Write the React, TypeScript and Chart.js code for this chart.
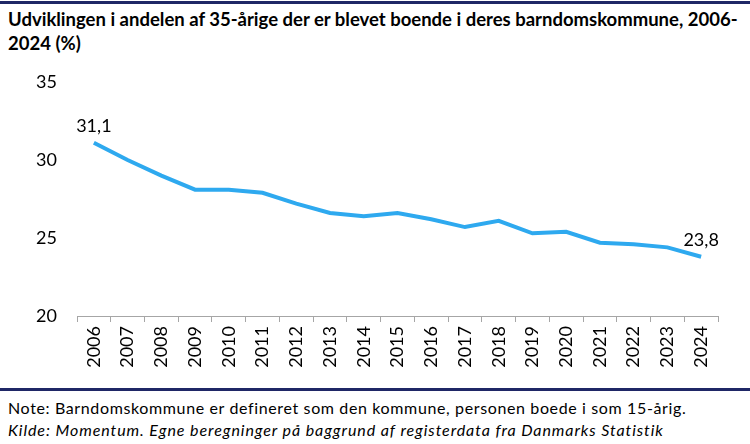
import React, { useEffect, useRef } from "react";
import { Chart, registerables } from "chart.js";

Chart.register(...registerables);

const years = ["2006","2007","2008","2009","2010","2011","2012","2013","2014","2015","2016","2017","2018","2019","2020","2021","2022","2023","2024"];
const shares = [31.1, 30.0, 29.0, 28.1, 28.1, 27.9, 27.2, 26.6, 26.4, 26.6, 26.2, 25.7, 26.1, 25.3, 25.4, 24.7, 24.6, 24.4, 23.8];
const labelledIndices = [0, 18];
const yMin = 20;
const yMax = 35;
const yStep = 5;

const titleLine1 = "Udviklingen i andelen af 35-årige der er blevet boende i deres barndomskommune, 2006-";
const titleLine2 = "2024 (%)";
const noteText = "Note: Barndomskommune er defineret som den kommune, personen boede i som 15-årig.";
const sourceText = "Kilde: Momentum. Egne beregninger på baggrund af registerdata fra Danmarks Statistik";

const FONT = "Lato, 'Open Sans', sans-serif";
const NAVY = "#1F2766";
const LINE = "#2EA9EF";

const endLabels = {
  id: "endLabels",
  afterDatasetsDraw(chart: any) {
    const ctx = chart.ctx;
    const meta = chart.getDatasetMeta(0);
    ctx.save();
    ctx.font = `18px ${FONT}`;
    ctx.fillStyle = "#000";
    ctx.textAlign = "center";
    ctx.textBaseline = "alphabetic";
    labelledIndices.forEach((i) => {
      const pt = meta.data[i];
      const v = chart.data.datasets[0].data[i] as number;
      ctx.fillText(v.toFixed(1).replace(".", ","), pt.x, pt.y - 11);
    });
    ctx.restore();
  },
};

export default function App() {
  const ref = useRef<HTMLCanvasElement>(null);
  useEffect(() => {
    const chart = new Chart(ref.current!, {
      type: "line",
      data: {
        labels: years,
        datasets: [
          {
            data: shares,
            borderColor: LINE,
            borderWidth: 4,
            pointRadius: 0,
            tension: 0,
            fill: false,
          },
        ],
      },
      options: {
        animation: false,
        responsive: true,
        maintainAspectRatio: false,
        layout: { padding: { top: 22, right: 32, left: 0, bottom: 0 } },
        plugins: { legend: { display: false }, tooltip: { enabled: false } },
        scales: {
          x: {
            offset: true,
            grid: {
              offset: true,
              drawOnChartArea: false,
              drawTicks: true,
              tickLength: 6,
              color: "#A6A6A6",
            },
            border: { display: true, color: "#A6A6A6", width: 1 },
            ticks: {
              autoSkip: false,
              minRotation: 90,
              maxRotation: 90,
              padding: 4,
              color: "#000",
              font: { family: FONT, size: 18 },
            },
            afterFit(scale: any) {
              scale.height = 72;
            },
          },
          y: {
            min: yMin,
            max: yMax,
            grid: { display: false, drawTicks: false },
            border: { display: false },
            ticks: {
              stepSize: yStep,
              padding: 20,
              color: "#000",
              font: { family: FONT, size: 18 },
            },
            afterFit(scale: any) {
              scale.width = 77;
              scale.paddingTop = 10;
              scale.paddingBottom = 10;
            },
          },
        },
      },
      plugins: [endLabels],
    });
    return () => chart.destroy();
  }, []);

  return (
    <div style={{ position: "absolute", left: 0, top: 0, width: 750, height: 444, background: "#fff", fontFamily: FONT, color: "#000" }}>
      <div style={{ position: "absolute", left: 0, top: 1, width: 750, height: 3, background: NAVY }} />
      <div style={{ position: "absolute", left: 8, top: 7, fontSize: 18.5, fontWeight: 700, lineHeight: "24px", whiteSpace: "nowrap" }}>
        <div>{titleLine1}</div>
        <div>{titleLine2}</div>
      </div>
      <div style={{ position: "absolute", left: 0, top: 60, width: 750, height: 328 }}>
        <canvas ref={ref} />
      </div>
      <div style={{ position: "absolute", left: 0, top: 388, width: 750, height: 3, background: NAVY }} />
      <div style={{ position: "absolute", left: 8, top: 397, fontSize: 16, lineHeight: "22px", whiteSpace: "nowrap" }}>
        <div style={{ letterSpacing: "0.63px" }}>{noteText}</div>
        <div style={{ fontStyle: "italic", letterSpacing: "0.92px" }}>{sourceText}</div>
      </div>
    </div>
  );
}
